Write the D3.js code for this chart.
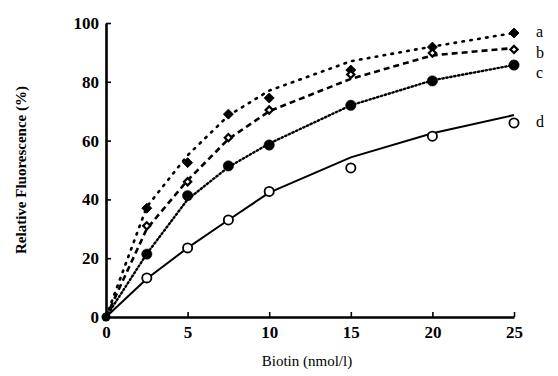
<!DOCTYPE html>
<html>
<head>
<meta charset="utf-8">
<script src="https://cdn.jsdelivr.net/npm/d3@7"></script>
<style>
  body { margin: 0; background: #fff; }
  svg text { font-family: "Liberation Serif", "DejaVu Serif", serif; fill: #000; }
</style>
</head>
<body>
<div id="chart"></div>
<script>
// Biotin concentrations (nmol/l)
var biotin = [0, 2.5, 5, 7.5, 10, 15, 20, 25];

// measured points (relative fluorescence %)
var seriesA = [0, 37, 52.5, 69, 74.5, 84, 91.8, 96.6];
var seriesB = [0, 31, 46, 61, 70.4, 82.5, 89.8, 91];
var seriesC = [0, 21.4, 41.3, 51.4, 58.5, 72, 80.3, 85.7];
var seriesD = [0, 13.3, 23.5, 33, 42.7, 50.7, 61.5, 66];

// fitted curves
var fitA = [0, 37.5, 55, 68.5, 77, 87, 92, 96.6];
var fitB = [0, 30, 46.5, 60.5, 70, 81, 89, 91.5];
var fitC = [0, 21.5, 40, 51, 59, 72, 80.5, 85.7];
var fitD = [0, 13, 23.5, 33, 42.3, 54.3, 62.5, 68.7];

var xTicks = [0, 5, 10, 15, 20, 25];
var yTicks = [0, 20, 40, 60, 80, 100];
var seriesLabels = ["a", "b", "c", "d"];

var width = 558, height = 376;
var margin = { top: 23, right: 44, bottom: 59, left: 106 };

var svg = d3.select("#chart").append("svg")
    .attr("width", width)
    .attr("height", height);

var x = d3.scaleLinear().domain([0, 25]).range([margin.left, width - margin.right]);
var y = d3.scaleLinear().domain([0, 100]).range([height - margin.bottom, margin.top]);

// axes
var xAxis = svg.append("g")
    .attr("transform", "translate(0," + y(0) + ")")
    .call(d3.axisBottom(x).tickValues(xTicks).tickSizeInner(-5).tickSizeOuter(0).tickPadding(9));
var yAxis = svg.append("g")
    .attr("transform", "translate(" + x(0) + ",0)")
    .call(d3.axisLeft(y).tickValues(yTicks).tickSizeInner(-5).tickSizeOuter(0).tickPadding(7));

[xAxis, yAxis].forEach(function(ax) {
    ax.select(".domain").attr("stroke", "#000").attr("stroke-width", 2.6);
    ax.selectAll(".tick line").attr("stroke", "#000").attr("stroke-width", 1.6);
    ax.selectAll(".tick text")
        .style("font-family", "'Liberation Serif', serif")
        .style("font-size", "17px")
        .style("font-weight", "bold")
        .attr("fill", "#000");
});

// axis titles
svg.append("text")
    .attr("x", 307)
    .attr("y", 366)
    .attr("text-anchor", "middle")
    .style("font-size", "15px")
    .text("Biotin (nmol/l)");

svg.append("text")
    .attr("transform", "translate(26,170) rotate(-90)")
    .attr("text-anchor", "middle")
    .style("font-size", "15px")
    .style("font-weight", "bold")
    .text("Relative Fluorescence (%)");

var series = [
    { pts: seriesA, fit: fitA, dash: "1.6,6.4", width: 2.6, marker: "diamond", filled: true },
    { pts: seriesB, fit: fitB, dash: "6,4", width: 2.6, marker: "diamond", filled: false },
    { pts: seriesC, fit: fitC, dash: "1.4,2.6", width: 2.4, marker: "circle", filled: true },
    { pts: seriesD, fit: fitD, dash: null, width: 2, marker: "circle", filled: false }
];

var line = d3.line()
    .x(function(d, i) { return x(biotin[i]); })
    .y(function(d) { return y(d); });

series.forEach(function(s) {
    svg.append("path")
        .attr("d", line(s.fit))
        .attr("fill", "none")
        .attr("stroke", "#000")
        .attr("stroke-width", s.width)
        .attr("stroke-linecap", s.dash && s.dash.charAt(0) === "1" ? "round" : "butt")
        .attr("stroke-dasharray", s.dash);
});

// diamonds are squares turned by 45 degrees
var square = d3.symbol().type(d3.symbolSquare);

series.forEach(function(s) {
    var g = svg.append("g");
    s.pts.forEach(function(v, i) {
        if (i === 0) return;
        var cx = x(biotin[i]), cy = y(v);
        if (s.marker === "diamond") {
            g.append("path")
                .attr("transform", "translate(" + cx + "," + cy + ") rotate(45)")
                .attr("d", square.size(s.filled ? 50 : 26)())
                .attr("fill", s.filled ? "#000" : "#fff")
                .attr("stroke", "#000")
                .attr("stroke-width", s.filled ? 0.8 : 2.2);
        } else {
            g.append("circle")
                .attr("cx", cx).attr("cy", cy)
                .attr("r", s.filled ? 5.2 : 4.6)
                .attr("fill", s.filled ? "#000" : "#fff")
                .attr("stroke", "#000")
                .attr("stroke-width", s.filled ? 0.5 : 1.8);
        }
    });
});

// origin point
svg.append("circle")
    .attr("cx", x(0)).attr("cy", y(0))
    .attr("r", 4.5)
    .attr("fill", "#000");

// series letters at the right end
var labelY = [seriesA[7], seriesB[7] - 1.5, seriesC[7] - 3, seriesD[7]];
svg.selectAll(".series-label")
    .data(seriesLabels)
    .enter().append("text")
    .attr("class", "series-label")
    .attr("x", x(25) + 22)
    .attr("y", function(d, i) { return y(labelY[i]) + 4; })
    .style("font-size", "16px")
    .text(function(d) { return d; });
</script>
</body>
</html>
